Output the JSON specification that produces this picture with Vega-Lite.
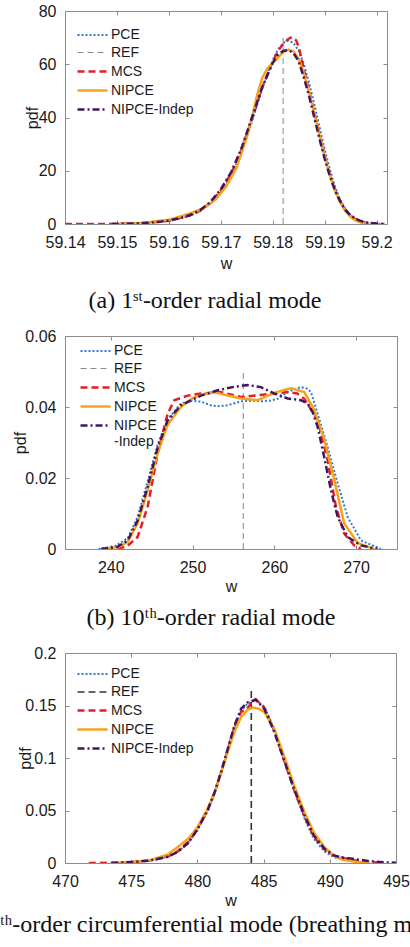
{
  "$schema": "https://vega.github.io/schema/vega-lite/v6.json",
  "padding": {"left": -45, "top": 3, "right": 0, "bottom": 0},
  "spacing": 15,
  "resolve": {
    "scale": {"color": "independent", "strokeDash": "independent", "strokeWidth": "independent"},
    "legend": {"color": "independent", "strokeDash": "independent", "strokeWidth": "independent"}
  },
  "config": {
    "font": "Liberation Sans",
    "view": {"stroke": null},
    "axis": {"labelFont": "Liberation Sans", "labelFontSize": 16, "labelColor": "#1a1a1a", "titleFont": "Liberation Sans", "titleFontSize": 16, "titleFontWeight": "normal", "titleColor": "#1a1a1a", "domainColor": "#8c8c8c", "tickColor": "#8c8c8c", "tickSize": -4, "labelPadding": 13, "grid": false, "labelFlush": false, "labelOverlap": false},
    "axisX": {"labelPadding": 14},
    "legend": {"labelFont": "Liberation Sans", "labelFontSize": 14, "labelColor": "#1a1a1a", "symbolType": "M-1.5,0H1.5", "symbolSize": 400, "labelOffset": 7, "rowPadding": 0, "orient": "none", "padding": 0, "labelLimit": 300},
    "title": {"font": "Liberation Serif", "fontSize": 24, "fontWeight": "normal", "color": "#111111", "orient": "bottom", "anchor": "middle", "frame": "group"}
  },
  "datasets": {
    "a": [
      {"s": "PCE", "w": 59.150, "v": 0}, {"s": "PCE", "w": 59.155, "v": 0.3}, {"s": "PCE", "w": 59.160, "v": 1.2}, {"s": "PCE", "w": 59.164, "v": 3.0}, {"s": "PCE", "w": 59.166, "v": 4.8}, {"s": "PCE", "w": 59.168, "v": 7.6}, {"s": "PCE", "w": 59.170, "v": 12}, {"s": "PCE", "w": 59.172, "v": 18}, {"s": "PCE", "w": 59.174, "v": 27}, {"s": "PCE", "w": 59.176, "v": 38.5}, {"s": "PCE", "w": 59.178, "v": 51}, {"s": "PCE", "w": 59.180, "v": 61.5}, {"s": "PCE", "w": 59.181, "v": 65.5}, {"s": "PCE", "w": 59.182, "v": 68}, {"s": "PCE", "w": 59.183, "v": 68.9}, {"s": "PCE", "w": 59.184, "v": 68}, {"s": "PCE", "w": 59.185, "v": 65}, {"s": "PCE", "w": 59.186, "v": 60}, {"s": "PCE", "w": 59.187, "v": 53}, {"s": "PCE", "w": 59.188, "v": 45}, {"s": "PCE", "w": 59.189, "v": 36.5}, {"s": "PCE", "w": 59.190, "v": 28}, {"s": "PCE", "w": 59.191, "v": 20.5}, {"s": "PCE", "w": 59.192, "v": 14}, {"s": "PCE", "w": 59.193, "v": 9}, {"s": "PCE", "w": 59.194, "v": 5.6}, {"s": "PCE", "w": 59.195, "v": 3.3}, {"s": "PCE", "w": 59.196, "v": 1.9}, {"s": "PCE", "w": 59.197, "v": 1.0}, {"s": "PCE", "w": 59.198, "v": 0.5}, {"s": "PCE", "w": 59.200, "v": 0.1}, {"s": "PCE", "w": 59.201, "v": 0},
      {"s": "REF", "w": 59.182, "v": 0}, {"s": "REF", "w": 59.182, "v": 71},
      {"s": "MCS", "w": 59.140, "v": 0}, {"s": "MCS", "w": 59.150, "v": 0.05}, {"s": "MCS", "w": 59.155, "v": 0.3}, {"s": "MCS", "w": 59.160, "v": 1.2}, {"s": "MCS", "w": 59.164, "v": 3.2}, {"s": "MCS", "w": 59.166, "v": 5.0}, {"s": "MCS", "w": 59.168, "v": 8.0}, {"s": "MCS", "w": 59.170, "v": 12.6}, {"s": "MCS", "w": 59.172, "v": 19}, {"s": "MCS", "w": 59.174, "v": 28}, {"s": "MCS", "w": 59.176, "v": 39.5}, {"s": "MCS", "w": 59.178, "v": 51.5}, {"s": "MCS", "w": 59.180, "v": 61}, {"s": "MCS", "w": 59.181, "v": 65}, {"s": "MCS", "w": 59.182, "v": 67.5}, {"s": "MCS", "w": 59.183, "v": 69.5}, {"s": "MCS", "w": 59.1837, "v": 70.2}, {"s": "MCS", "w": 59.1845, "v": 69}, {"s": "MCS", "w": 59.185, "v": 66.5}, {"s": "MCS", "w": 59.186, "v": 58}, {"s": "MCS", "w": 59.187, "v": 50}, {"s": "MCS", "w": 59.188, "v": 42}, {"s": "MCS", "w": 59.189, "v": 33.5}, {"s": "MCS", "w": 59.190, "v": 25.5}, {"s": "MCS", "w": 59.191, "v": 18.5}, {"s": "MCS", "w": 59.192, "v": 12.8}, {"s": "MCS", "w": 59.193, "v": 8.5}, {"s": "MCS", "w": 59.194, "v": 5.2}, {"s": "MCS", "w": 59.195, "v": 3}, {"s": "MCS", "w": 59.196, "v": 1.7}, {"s": "MCS", "w": 59.197, "v": 0.9}, {"s": "MCS", "w": 59.198, "v": 0.4}, {"s": "MCS", "w": 59.200, "v": 0.05}, {"s": "MCS", "w": 59.2015, "v": 0},
      {"s": "NIPCE", "w": 59.150, "v": 0}, {"s": "NIPCE", "w": 59.155, "v": 0.4}, {"s": "NIPCE", "w": 59.160, "v": 1.6}, {"s": "NIPCE", "w": 59.163, "v": 3.3}, {"s": "NIPCE", "w": 59.165, "v": 4.6}, {"s": "NIPCE", "w": 59.167, "v": 6.3}, {"s": "NIPCE", "w": 59.169, "v": 9.2}, {"s": "NIPCE", "w": 59.171, "v": 14}, {"s": "NIPCE", "w": 59.173, "v": 21}, {"s": "NIPCE", "w": 59.175, "v": 32.5}, {"s": "NIPCE", "w": 59.176, "v": 40}, {"s": "NIPCE", "w": 59.177, "v": 48.5}, {"s": "NIPCE", "w": 59.178, "v": 55}, {"s": "NIPCE", "w": 59.179, "v": 58.5}, {"s": "NIPCE", "w": 59.180, "v": 60.5}, {"s": "NIPCE", "w": 59.181, "v": 62.5}, {"s": "NIPCE", "w": 59.182, "v": 64.5}, {"s": "NIPCE", "w": 59.183, "v": 65.5}, {"s": "NIPCE", "w": 59.184, "v": 64.8}, {"s": "NIPCE", "w": 59.185, "v": 62}, {"s": "NIPCE", "w": 59.186, "v": 56.5}, {"s": "NIPCE", "w": 59.187, "v": 49.5}, {"s": "NIPCE", "w": 59.188, "v": 41.5}, {"s": "NIPCE", "w": 59.189, "v": 33.5}, {"s": "NIPCE", "w": 59.190, "v": 25.5}, {"s": "NIPCE", "w": 59.191, "v": 18.5}, {"s": "NIPCE", "w": 59.192, "v": 12.5}, {"s": "NIPCE", "w": 59.193, "v": 8}, {"s": "NIPCE", "w": 59.194, "v": 4.8}, {"s": "NIPCE", "w": 59.195, "v": 2.6}, {"s": "NIPCE", "w": 59.196, "v": 1.3}, {"s": "NIPCE", "w": 59.197, "v": 0.5}, {"s": "NIPCE", "w": 59.198, "v": 0.1}, {"s": "NIPCE", "w": 59.199, "v": 0},
      {"s": "NIPCE-Indep", "w": 59.149, "v": 0}, {"s": "NIPCE-Indep", "w": 59.152, "v": 0.15}, {"s": "NIPCE-Indep", "w": 59.155, "v": 0.35}, {"s": "NIPCE-Indep", "w": 59.158, "v": 0.8}, {"s": "NIPCE-Indep", "w": 59.160, "v": 1.3}, {"s": "NIPCE-Indep", "w": 59.162, "v": 2.1}, {"s": "NIPCE-Indep", "w": 59.164, "v": 3.3}, {"s": "NIPCE-Indep", "w": 59.166, "v": 5.2}, {"s": "NIPCE-Indep", "w": 59.168, "v": 8.3}, {"s": "NIPCE-Indep", "w": 59.170, "v": 13}, {"s": "NIPCE-Indep", "w": 59.172, "v": 19.5}, {"s": "NIPCE-Indep", "w": 59.174, "v": 28.5}, {"s": "NIPCE-Indep", "w": 59.176, "v": 40}, {"s": "NIPCE-Indep", "w": 59.178, "v": 51.5}, {"s": "NIPCE-Indep", "w": 59.180, "v": 60.5}, {"s": "NIPCE-Indep", "w": 59.181, "v": 63.5}, {"s": "NIPCE-Indep", "w": 59.182, "v": 65}, {"s": "NIPCE-Indep", "w": 59.183, "v": 65.3}, {"s": "NIPCE-Indep", "w": 59.184, "v": 64.2}, {"s": "NIPCE-Indep", "w": 59.185, "v": 61}, {"s": "NIPCE-Indep", "w": 59.186, "v": 55}, {"s": "NIPCE-Indep", "w": 59.187, "v": 48}, {"s": "NIPCE-Indep", "w": 59.188, "v": 40}, {"s": "NIPCE-Indep", "w": 59.189, "v": 32}, {"s": "NIPCE-Indep", "w": 59.190, "v": 24.5}, {"s": "NIPCE-Indep", "w": 59.191, "v": 18}, {"s": "NIPCE-Indep", "w": 59.192, "v": 12.5}, {"s": "NIPCE-Indep", "w": 59.193, "v": 8.5}, {"s": "NIPCE-Indep", "w": 59.194, "v": 5.3}, {"s": "NIPCE-Indep", "w": 59.195, "v": 3.2}, {"s": "NIPCE-Indep", "w": 59.196, "v": 1.9}, {"s": "NIPCE-Indep", "w": 59.197, "v": 1.1}, {"s": "NIPCE-Indep", "w": 59.198, "v": 0.6}, {"s": "NIPCE-Indep", "w": 59.200, "v": 0.15}, {"s": "NIPCE-Indep", "w": 59.2015, "v": 0}
    ],
    "b": [
      {"s": "PCE", "w": 238.5, "v": 0}, {"s": "PCE", "w": 240.5, "v": 0.0008}, {"s": "PCE", "w": 242.06, "v": 0.003}, {"s": "PCE", "w": 243.28, "v": 0.009}, {"s": "PCE", "w": 244.5, "v": 0.019}, {"s": "PCE", "w": 245.73, "v": 0.0295}, {"s": "PCE", "w": 246.95, "v": 0.0365}, {"s": "PCE", "w": 248.58, "v": 0.041}, {"s": "PCE", "w": 249.8, "v": 0.0418}, {"s": "PCE", "w": 251.02, "v": 0.0415}, {"s": "PCE", "w": 252.2, "v": 0.0405}, {"s": "PCE", "w": 253.07, "v": 0.0402}, {"s": "PCE", "w": 254.3, "v": 0.0405}, {"s": "PCE", "w": 255.92, "v": 0.0416}, {"s": "PCE", "w": 257.55, "v": 0.0418}, {"s": "PCE", "w": 258.36, "v": 0.0416}, {"s": "PCE", "w": 259.5, "v": 0.0418}, {"s": "PCE", "w": 260.41, "v": 0.0423}, {"s": "PCE", "w": 261.63, "v": 0.0442}, {"s": "PCE", "w": 262.4, "v": 0.045}, {"s": "PCE", "w": 263.26, "v": 0.0456}, {"s": "PCE", "w": 264.0, "v": 0.0452}, {"s": "PCE", "w": 264.48, "v": 0.0442}, {"s": "PCE", "w": 265.3, "v": 0.0381}, {"s": "PCE", "w": 266.52, "v": 0.0287}, {"s": "PCE", "w": 267.75, "v": 0.0184}, {"s": "PCE", "w": 268.97, "v": 0.009}, {"s": "PCE", "w": 270.6, "v": 0.0024}, {"s": "PCE", "w": 273.04, "v": 0},
      {"s": "REF", "w": 256.2, "v": 0}, {"s": "REF", "w": 256.2, "v": 0.0501},
      {"s": "MCS", "w": 240.83, "v": 0}, {"s": "MCS", "w": 242.0, "v": 0.0008}, {"s": "MCS", "w": 243.28, "v": 0.0034}, {"s": "MCS", "w": 244.5, "v": 0.0118}, {"s": "MCS", "w": 245.73, "v": 0.0269}, {"s": "MCS", "w": 246.95, "v": 0.0381}, {"s": "MCS", "w": 247.76, "v": 0.0419}, {"s": "MCS", "w": 249.4, "v": 0.0432}, {"s": "MCS", "w": 251.02, "v": 0.0438}, {"s": "MCS", "w": 253.47, "v": 0.0442}, {"s": "MCS", "w": 255.92, "v": 0.0428}, {"s": "MCS", "w": 258.36, "v": 0.0434}, {"s": "MCS", "w": 261.63, "v": 0.0442}, {"s": "MCS", "w": 262.8, "v": 0.0438}, {"s": "MCS", "w": 263.66, "v": 0.0423}, {"s": "MCS", "w": 265.3, "v": 0.0363}, {"s": "MCS", "w": 266.52, "v": 0.025}, {"s": "MCS", "w": 267.54, "v": 0.0118}, {"s": "MCS", "w": 268.55, "v": 0.0043}, {"s": "MCS", "w": 269.78, "v": 0.001}, {"s": "MCS", "w": 270.6, "v": 0},
      {"s": "NIPCE", "w": 239.0, "v": 0}, {"s": "NIPCE", "w": 241.0, "v": 0.0006}, {"s": "NIPCE", "w": 242.06, "v": 0.002}, {"s": "NIPCE", "w": 243.28, "v": 0.0072}, {"s": "NIPCE", "w": 244.5, "v": 0.0165}, {"s": "NIPCE", "w": 245.73, "v": 0.027}, {"s": "NIPCE", "w": 246.95, "v": 0.035}, {"s": "NIPCE", "w": 248.58, "v": 0.040}, {"s": "NIPCE", "w": 250.0, "v": 0.0425}, {"s": "NIPCE", "w": 251.5, "v": 0.0437}, {"s": "NIPCE", "w": 252.6, "v": 0.0442}, {"s": "NIPCE", "w": 253.47, "v": 0.0437}, {"s": "NIPCE", "w": 255.92, "v": 0.0424}, {"s": "NIPCE", "w": 257.96, "v": 0.0419}, {"s": "NIPCE", "w": 259.99, "v": 0.044}, {"s": "NIPCE", "w": 262.03, "v": 0.0453}, {"s": "NIPCE", "w": 263.66, "v": 0.0442}, {"s": "NIPCE", "w": 264.88, "v": 0.0392}, {"s": "NIPCE", "w": 266.1, "v": 0.031}, {"s": "NIPCE", "w": 267.33, "v": 0.0195}, {"s": "NIPCE", "w": 268.55, "v": 0.0072}, {"s": "NIPCE", "w": 270.19, "v": 0.0017}, {"s": "NIPCE", "w": 272.22, "v": 0},
      {"s": "NIPCE-Indep", "w": 238.8, "v": 0}, {"s": "NIPCE-Indep", "w": 240.8, "v": 0.0006}, {"s": "NIPCE-Indep", "w": 242.06, "v": 0.0024}, {"s": "NIPCE-Indep", "w": 243.28, "v": 0.008}, {"s": "NIPCE-Indep", "w": 244.5, "v": 0.0175}, {"s": "NIPCE-Indep", "w": 245.73, "v": 0.0285}, {"s": "NIPCE-Indep", "w": 246.95, "v": 0.0362}, {"s": "NIPCE-Indep", "w": 248.58, "v": 0.0405}, {"s": "NIPCE-Indep", "w": 251.02, "v": 0.0432}, {"s": "NIPCE-Indep", "w": 253.07, "v": 0.0447}, {"s": "NIPCE-Indep", "w": 255.1, "v": 0.0457}, {"s": "NIPCE-Indep", "w": 256.74, "v": 0.0462}, {"s": "NIPCE-Indep", "w": 258.36, "v": 0.0456}, {"s": "NIPCE-Indep", "w": 260.0, "v": 0.0438}, {"s": "NIPCE-Indep", "w": 261.63, "v": 0.0424}, {"s": "NIPCE-Indep", "w": 263.26, "v": 0.0419}, {"s": "NIPCE-Indep", "w": 264.08, "v": 0.041}, {"s": "NIPCE-Indep", "w": 264.7, "v": 0.0385}, {"s": "NIPCE-Indep", "w": 265.3, "v": 0.0344}, {"s": "NIPCE-Indep", "w": 266.1, "v": 0.0259}, {"s": "NIPCE-Indep", "w": 266.93, "v": 0.0165}, {"s": "NIPCE-Indep", "w": 267.75, "v": 0.009}, {"s": "NIPCE-Indep", "w": 268.97, "v": 0.0034}, {"s": "NIPCE-Indep", "w": 270.6, "v": 0.001}, {"s": "NIPCE-Indep", "w": 272.6, "v": 0}
    ],
    "c": [
      {"s": "PCE", "w": 473.5, "v": 0}, {"s": "PCE", "w": 475.2, "v": 0.001}, {"s": "PCE", "w": 476.5, "v": 0.0025}, {"s": "PCE", "w": 477.75, "v": 0.006}, {"s": "PCE", "w": 478.5, "v": 0.0105}, {"s": "PCE", "w": 479.3, "v": 0.019}, {"s": "PCE", "w": 480.0, "v": 0.031}, {"s": "PCE", "w": 480.8, "v": 0.05}, {"s": "PCE", "w": 481.3, "v": 0.066}, {"s": "PCE", "w": 481.8, "v": 0.086}, {"s": "PCE", "w": 482.3, "v": 0.108}, {"s": "PCE", "w": 482.8, "v": 0.129}, {"s": "PCE", "w": 483.3, "v": 0.145}, {"s": "PCE", "w": 483.8, "v": 0.152}, {"s": "PCE", "w": 484.4, "v": 0.155}, {"s": "PCE", "w": 485.05, "v": 0.149}, {"s": "PCE", "w": 485.8, "v": 0.128}, {"s": "PCE", "w": 486.6, "v": 0.097}, {"s": "PCE", "w": 487.3, "v": 0.069}, {"s": "PCE", "w": 488.1, "v": 0.042}, {"s": "PCE", "w": 488.8, "v": 0.023}, {"s": "PCE", "w": 489.6, "v": 0.011}, {"s": "PCE", "w": 490.3, "v": 0.0055}, {"s": "PCE", "w": 491.6, "v": 0.002}, {"s": "PCE", "w": 493.0, "v": 0},
      {"s": "REF", "w": 484.07, "v": 0}, {"s": "REF", "w": 484.07, "v": 0.1674},
      {"s": "MCS", "w": 471.8, "v": 0}, {"s": "MCS", "w": 473.5, "v": 0.0002}, {"s": "MCS", "w": 475.2, "v": 0.001}, {"s": "MCS", "w": 476.5, "v": 0.0025}, {"s": "MCS", "w": 477.75, "v": 0.006}, {"s": "MCS", "w": 478.5, "v": 0.011}, {"s": "MCS", "w": 479.3, "v": 0.02}, {"s": "MCS", "w": 480.0, "v": 0.033}, {"s": "MCS", "w": 480.8, "v": 0.052}, {"s": "MCS", "w": 481.3, "v": 0.067}, {"s": "MCS", "w": 481.8, "v": 0.087}, {"s": "MCS", "w": 482.3, "v": 0.108}, {"s": "MCS", "w": 482.8, "v": 0.13}, {"s": "MCS", "w": 483.3, "v": 0.144}, {"s": "MCS", "w": 483.7, "v": 0.146}, {"s": "MCS", "w": 484.0, "v": 0.151}, {"s": "MCS", "w": 484.4, "v": 0.156}, {"s": "MCS", "w": 485.05, "v": 0.148}, {"s": "MCS", "w": 485.8, "v": 0.126}, {"s": "MCS", "w": 486.6, "v": 0.096}, {"s": "MCS", "w": 487.3, "v": 0.07}, {"s": "MCS", "w": 488.1, "v": 0.044}, {"s": "MCS", "w": 488.8, "v": 0.025}, {"s": "MCS", "w": 489.6, "v": 0.013}, {"s": "MCS", "w": 490.3, "v": 0.007}, {"s": "MCS", "w": 491.6, "v": 0.003}, {"s": "MCS", "w": 493.0, "v": 0.001}, {"s": "MCS", "w": 494.0, "v": 0},
      {"s": "NIPCE", "w": 473.5, "v": 0}, {"s": "NIPCE", "w": 475.2, "v": 0.001}, {"s": "NIPCE", "w": 476.5, "v": 0.003}, {"s": "NIPCE", "w": 477.75, "v": 0.008}, {"s": "NIPCE", "w": 478.5, "v": 0.015}, {"s": "NIPCE", "w": 479.3, "v": 0.023}, {"s": "NIPCE", "w": 480.0, "v": 0.034}, {"s": "NIPCE", "w": 480.8, "v": 0.052}, {"s": "NIPCE", "w": 481.3, "v": 0.067}, {"s": "NIPCE", "w": 481.8, "v": 0.086}, {"s": "NIPCE", "w": 482.3, "v": 0.106}, {"s": "NIPCE", "w": 482.8, "v": 0.125}, {"s": "NIPCE", "w": 483.3, "v": 0.139}, {"s": "NIPCE", "w": 483.8, "v": 0.146}, {"s": "NIPCE", "w": 484.2, "v": 0.148}, {"s": "NIPCE", "w": 484.6, "v": 0.147}, {"s": "NIPCE", "w": 485.05, "v": 0.144}, {"s": "NIPCE", "w": 485.8, "v": 0.128}, {"s": "NIPCE", "w": 486.6, "v": 0.1}, {"s": "NIPCE", "w": 487.3, "v": 0.074}, {"s": "NIPCE", "w": 488.1, "v": 0.048}, {"s": "NIPCE", "w": 488.8, "v": 0.029}, {"s": "NIPCE", "w": 489.6, "v": 0.015}, {"s": "NIPCE", "w": 490.3, "v": 0.007}, {"s": "NIPCE", "w": 491.0, "v": 0.003}, {"s": "NIPCE", "w": 492.0, "v": 0.001}, {"s": "NIPCE", "w": 493.0, "v": 0},
      {"s": "NIPCE-Indep", "w": 473.5, "v": 0}, {"s": "NIPCE-Indep", "w": 475.2, "v": 0.001}, {"s": "NIPCE-Indep", "w": 476.5, "v": 0.0025}, {"s": "NIPCE-Indep", "w": 477.75, "v": 0.006}, {"s": "NIPCE-Indep", "w": 478.5, "v": 0.0105}, {"s": "NIPCE-Indep", "w": 479.3, "v": 0.019}, {"s": "NIPCE-Indep", "w": 480.0, "v": 0.032}, {"s": "NIPCE-Indep", "w": 480.8, "v": 0.051}, {"s": "NIPCE-Indep", "w": 481.3, "v": 0.0675}, {"s": "NIPCE-Indep", "w": 481.8, "v": 0.087}, {"s": "NIPCE-Indep", "w": 482.3, "v": 0.109}, {"s": "NIPCE-Indep", "w": 482.8, "v": 0.131}, {"s": "NIPCE-Indep", "w": 483.3, "v": 0.147}, {"s": "NIPCE-Indep", "w": 483.8, "v": 0.153}, {"s": "NIPCE-Indep", "w": 484.4, "v": 0.1555}, {"s": "NIPCE-Indep", "w": 485.05, "v": 0.147}, {"s": "NIPCE-Indep", "w": 485.8, "v": 0.125}, {"s": "NIPCE-Indep", "w": 486.6, "v": 0.096}, {"s": "NIPCE-Indep", "w": 487.3, "v": 0.0707}, {"s": "NIPCE-Indep", "w": 488.1, "v": 0.045}, {"s": "NIPCE-Indep", "w": 488.8, "v": 0.026}, {"s": "NIPCE-Indep", "w": 489.6, "v": 0.0136}, {"s": "NIPCE-Indep", "w": 490.3, "v": 0.0073}, {"s": "NIPCE-Indep", "w": 491.0, "v": 0.005}, {"s": "NIPCE-Indep", "w": 491.6, "v": 0.0042}, {"s": "NIPCE-Indep", "w": 492.3, "v": 0.003}, {"s": "NIPCE-Indep", "w": 492.9, "v": 0.002}, {"s": "NIPCE-Indep", "w": 494.1, "v": 0.0007}, {"s": "NIPCE-Indep", "w": 495.0, "v": 0.0002}
    ]
  },
  "vconcat": [
    {
      "width": 322, "height": 213,
      "title": {"text": "(a) 1ˢᵗ-order radial mode", "dx": -21, "offset": 18},
      "data": {"name": "a"},
      "layer": [
        {
          "mark": {"type": "line", "clip": true, "strokeCap": "butt"},
          "encoding": {
            "x": {"field": "w", "type": "quantitative", "scale": {"domain": [59.14, 59.202], "nice": false, "zero": false}, "axis": {"title": "w", "values": [59.14, 59.15, 59.16, 59.17, 59.18, 59.19, 59.2], "format": ".2~f", "titleY": 44, "titleBaseline": "alphabetic"}},
            "y": {"field": "v", "type": "quantitative", "scale": {"domain": [0, 80], "nice": false}, "axis": {"title": "pdf", "values": [0, 20, 40, 60, 80], "titleX": -28, "titleBaseline": "alphabetic"}},
            "color": {"field": "s", "type": "nominal", "scale": {"domain": ["PCE", "REF", "MCS", "NIPCE", "NIPCE-Indep"], "range": ["#2f78d4", "#8a8a8a", "#e41e26", "#f5a31a", "#40175f"]}, "legend": {"title": null, "legendX": 16, "legendY": 13}},
            "strokeDash": {"field": "s", "type": "nominal", "scale": {"domain": ["PCE", "REF", "MCS", "NIPCE", "NIPCE-Indep"], "range": [[2, 2], [6, 4], [7, 4], [1, 0], [7, 3, 2, 3]]}, "legend": {"title": null, "legendX": 16, "legendY": 13}},
            "strokeWidth": {"field": "s", "type": "nominal", "scale": {"type": "ordinal", "domain": ["PCE", "REF", "MCS", "NIPCE", "NIPCE-Indep"], "range": [2, 1, 2.5, 2.5, 2.5]}, "legend": {"title": null, "legendX": 16, "legendY": 13}}
          }
        },
        {
          "mark": {"type": "line", "strokeOpacity": 0},
          "encoding": {
            "x": {"field": "w", "type": "quantitative", "scale": {"domain": [59.14, 59.202], "nice": false, "zero": false}, "axis": {"orient": "top", "title": null, "labels": false, "values": [59.14, 59.15, 59.16, 59.17, 59.18, 59.19, 59.2]}},
            "y": {"field": "v", "type": "quantitative", "scale": {"domain": [0, 80], "nice": false}, "axis": {"orient": "right", "title": null, "labels": false, "values": [0, 20, 40, 60, 80]}}
          }
        }
      ],
      "resolve": {"axis": {"x": "independent", "y": "independent"}}
    },
    {
      "width": 332, "height": 213,
      "title": {"text": "(b) 10ᵗʰ-order radial mode", "dx": -20, "offset": 12},
      "data": {"name": "b"},
      "layer": [
        {
          "mark": {"type": "line", "clip": true, "strokeCap": "butt"},
          "encoding": {
            "x": {"field": "w", "type": "quantitative", "scale": {"domain": [234.4, 275], "nice": false, "zero": false}, "axis": {"title": "w", "values": [240, 250, 260, 270], "titleY": 42, "titleBaseline": "alphabetic"}},
            "y": {"field": "v", "type": "quantitative", "scale": {"domain": [0, 0.06], "nice": false}, "axis": {"title": "pdf", "values": [0, 0.02, 0.04, 0.06], "format": ".2~f", "titleX": -40, "titleBaseline": "alphabetic"}},
            "color": {"field": "s", "type": "nominal", "scale": {"domain": ["PCE", "REF", "MCS", "NIPCE", "NIPCE-Indep"], "range": ["#2f78d4", "#8a8a8a", "#e41e26", "#f5a31a", "#40175f"]}, "legend": {"title": null, "legendX": 19, "legendY": 4, "labelExpr": "datum.label == 'NIPCE-Indep' ? ['NIPCE', '-Indep'] : datum.label"}},
            "strokeDash": {"field": "s", "type": "nominal", "scale": {"domain": ["PCE", "REF", "MCS", "NIPCE", "NIPCE-Indep"], "range": [[2, 2], [6, 4], [7, 4], [1, 0], [7, 3, 2, 3]]}, "legend": {"title": null, "legendX": 19, "legendY": 4, "labelExpr": "datum.label == 'NIPCE-Indep' ? ['NIPCE', '-Indep'] : datum.label"}},
            "strokeWidth": {"field": "s", "type": "nominal", "scale": {"type": "ordinal", "domain": ["PCE", "REF", "MCS", "NIPCE", "NIPCE-Indep"], "range": [2, 1, 2.5, 2.5, 2.5]}, "legend": {"title": null, "legendX": 19, "legendY": 4, "labelExpr": "datum.label == 'NIPCE-Indep' ? ['NIPCE', '-Indep'] : datum.label"}}
          }
        },
        {
          "mark": {"type": "line", "strokeOpacity": 0},
          "encoding": {
            "x": {"field": "w", "type": "quantitative", "scale": {"domain": [234.4, 275], "nice": false, "zero": false}, "axis": {"orient": "top", "title": null, "labels": false, "values": [240, 250, 260, 270]}},
            "y": {"field": "v", "type": "quantitative", "scale": {"domain": [0, 0.06], "nice": false}, "axis": {"orient": "right", "title": null, "labels": false, "values": [0, 0.02, 0.04, 0.06]}}
          }
        }
      ],
      "resolve": {"axis": {"x": "independent", "y": "independent"}}
    },
    {
      "width": 331, "height": 210,
      "title": {"text": "(c) 0ᵗʰ-order circumferential mode (breathing mode)", "dx": -25.5, "offset": 5},
      "data": {"name": "c"},
      "layer": [
        {
          "mark": {"type": "line", "clip": true, "strokeCap": "butt"},
          "encoding": {
            "x": {"field": "w", "type": "quantitative", "scale": {"domain": [470, 495], "nice": false, "zero": false}, "axis": {"title": "w", "values": [470, 475, 480, 485, 490, 495], "titleY": 42, "titleBaseline": "alphabetic"}},
            "y": {"field": "v", "type": "quantitative", "scale": {"domain": [0, 0.2], "nice": false}, "axis": {"title": "pdf", "values": [0, 0.05, 0.1, 0.15, 0.2], "format": ".2~f", "titleX": -35, "titleBaseline": "alphabetic"}},
            "color": {"field": "s", "type": "nominal", "scale": {"domain": ["PCE", "REF", "MCS", "NIPCE", "NIPCE-Indep"], "range": ["#2f78d4", "#333333", "#e41e26", "#f5a31a", "#40175f"]}, "legend": {"title": null, "legendX": 16, "legendY": 10}},
            "strokeDash": {"field": "s", "type": "nominal", "scale": {"domain": ["PCE", "REF", "MCS", "NIPCE", "NIPCE-Indep"], "range": [[2, 2], [7, 4], [7, 4], [1, 0], [7, 3, 2, 3]]}, "legend": {"title": null, "legendX": 16, "legendY": 10}},
            "strokeWidth": {"field": "s", "type": "nominal", "scale": {"type": "ordinal", "domain": ["PCE", "REF", "MCS", "NIPCE", "NIPCE-Indep"], "range": [2, 1.6, 2.5, 2.5, 2.5]}, "legend": {"title": null, "legendX": 16, "legendY": 10}}
          }
        },
        {
          "mark": {"type": "line", "strokeOpacity": 0},
          "encoding": {
            "x": {"field": "w", "type": "quantitative", "scale": {"domain": [470, 495], "nice": false, "zero": false}, "axis": {"orient": "top", "title": null, "labels": false, "values": [470, 475, 480, 485, 490, 495]}},
            "y": {"field": "v", "type": "quantitative", "scale": {"domain": [0, 0.2], "nice": false}, "axis": {"orient": "right", "title": null, "labels": false, "values": [0, 0.05, 0.1, 0.15, 0.2]}}
          }
        }
      ],
      "resolve": {"axis": {"x": "independent", "y": "independent"}}
    }
  ]
}
